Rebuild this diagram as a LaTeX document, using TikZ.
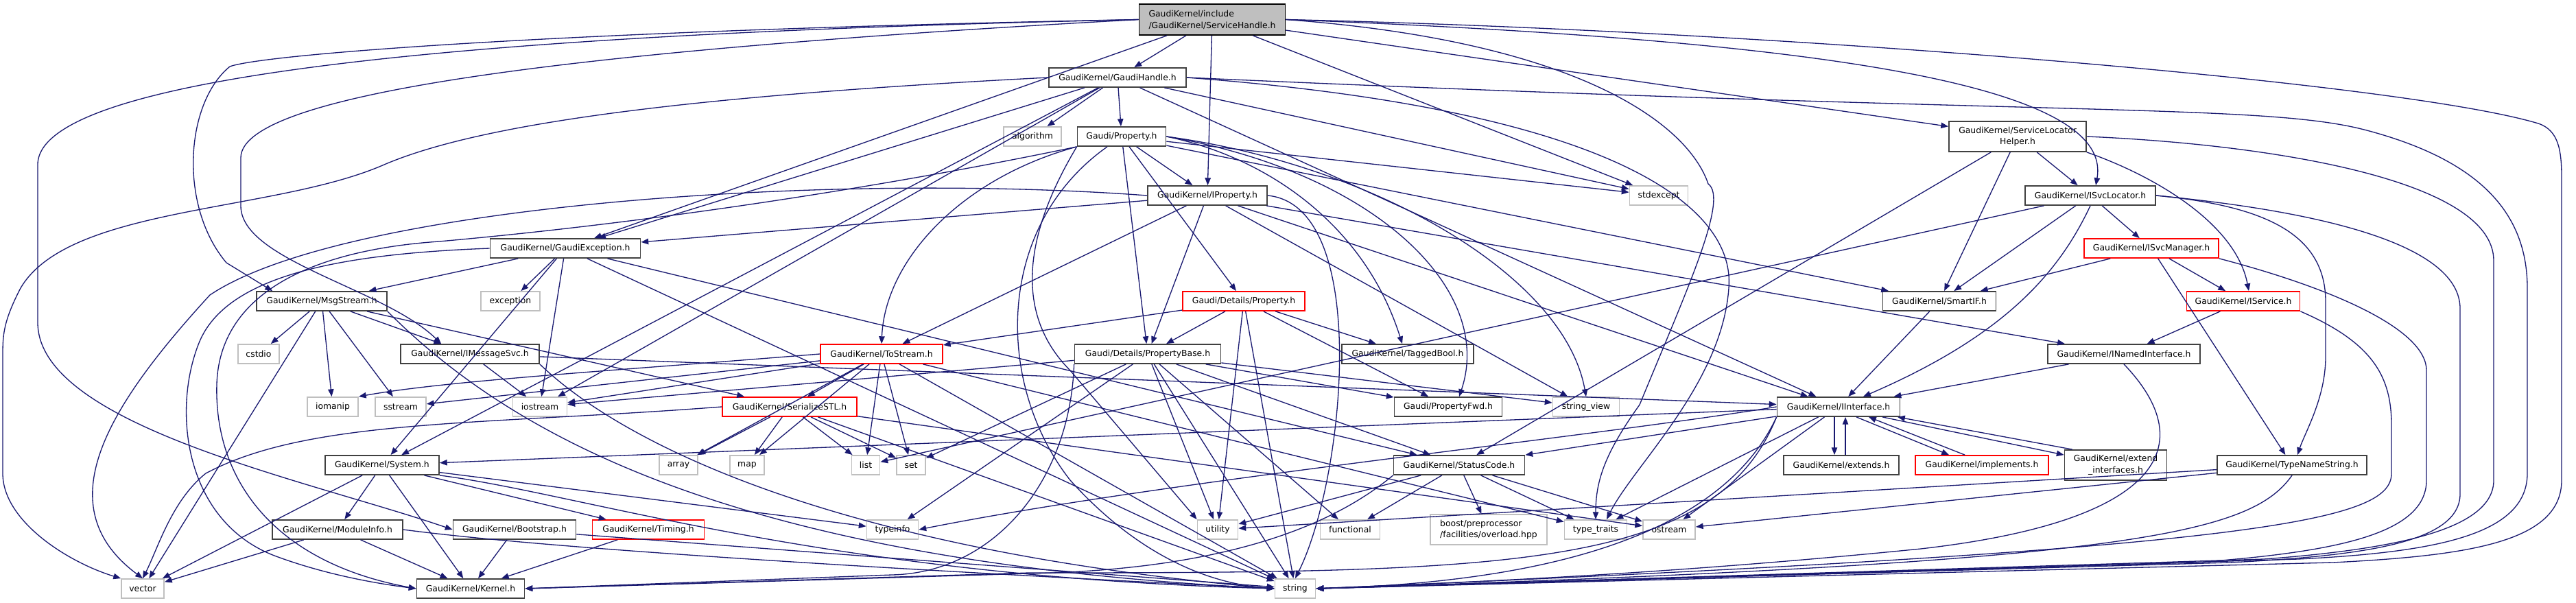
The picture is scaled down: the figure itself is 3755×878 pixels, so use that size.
\documentclass[tikz,border=0pt]{standalone}
\usepackage{fontspec}
\setmainfont{DejaVu Sans}
\usetikzlibrary{arrows.meta}
\definecolor{edgec}{HTML}{191970}
\definecolor{grayb}{HTML}{BFBFBF}
\definecolor{redb}{HTML}{FF0000}
\definecolor{shfill}{HTML}{BFBFBF}
\definecolor{darkb}{HTML}{404040}
\newcommand{\dxfont}{\fontsize{3.1}{4.2}\selectfont}
\tikzset{
 nb/.style={draw=darkb, line width=0.45pt, fill=white, inner sep=0pt, minimum height=7pt, font=\dxfont, text=black},
 ng/.style={nb, draw=grayb},
 nr/.style={nb, draw=redb},
 e/.style={draw=edgec, line width=0.33pt, -{Triangle[length=2.7pt,width=2.1pt]}},
}
\begin{document}
\begin{tikzpicture}[x=0.25pt,y=-0.25pt]
\useasboundingbox (0,0) rectangle (3755,878);
% ---------- nodes ----------
\node[nb, draw=black, fill=shfill, minimum width=53.25pt, minimum height=11.25pt, align=left] (SH) at (1767,28.5) {GaudiKernel/include\\/GaudiKernel/ServiceHandle.h};
\node[nb, minimum width=50pt] (GH) at (1629,113) {GaudiKernel/GaudiHandle.h};
\node[ng, minimum width=21pt] (ALG) at (1505,199) {algorithm};
\node[nb, minimum width=32.25pt] (PROP) at (1635,199) {Gaudi/Property.h};
\node[nb, minimum width=50pt, minimum height=11pt, align=center] (SLH) at (2941,199) {GaudiKernel/ServiceLocator\\Helper.h};
\node[nb, minimum width=43.5pt] (IPROP) at (1760,285) {GaudiKernel/IProperty.h};
\node[nb, minimum width=47.5pt] (ISL) at (3047,285) {GaudiKernel/ISvcLocator.h};
\node[ng, minimum width=21.25pt] (STDEXC) at (2418,285) {stdexcept};
\node[nb, minimum width=54.75pt] (GEXC) at (824,362) {GaudiKernel/GaudiException.h};
\node[nr, minimum width=49pt] (ISM) at (3136,362) {GaudiKernel/ISvcManager.h};
\node[nr, minimum width=44.5pt] (DPROP) at (1813,439) {Gaudi/Details/Property.h};
\node[nb, minimum width=47.5pt] (MSG) at (469,439) {GaudiKernel/MsgStream.h};
\node[ng, minimum width=21.5pt] (EXC) at (744,439) {exception};
\node[nb, minimum width=41.25pt] (SMART) at (2827,439) {GaudiKernel/SmartIF.h};
\node[nr, minimum width=41.25pt] (ISERV) at (3270,439) {GaudiKernel/IService.h};
\node[ng, minimum width=15pt] (CSTDIO) at (377,516) {cstdio};
\node[nb, minimum width=50.5pt] (IMSG) at (685,516) {GaudiKernel/IMessageSvc.h};
\node[nr, minimum width=44.5pt] (TOS) at (1285,516) {GaudiKernel/ToStream.h};
\node[nb, minimum width=53.25pt] (PB) at (1673,516) {Gaudi/Details/PropertyBase.h};
\node[nb, minimum width=48pt] (TB) at (2052,516) {GaudiKernel/TaggedBool.h};
\node[nb, minimum width=55.5pt] (INI) at (3096,516) {GaudiKernel/INamedInterface.h};
\node[ng, minimum width=18.5pt] (IOMANIP) at (485,593) {iomanip};
\node[ng, minimum width=18.5pt] (SSTREAM) at (584,593) {sstream};
\node[ng, minimum width=19.75pt] (IOSTREAM) at (787,593) {iostream};
\node[nr, minimum width=49pt] (SSTL) at (1151,593) {GaudiKernel/SerializeSTL.h};
\node[nb, minimum width=39.25pt] (PFWD) at (2111,593) {Gaudi/PropertyFwd.h};
\node[ng, minimum width=24.25pt] (SV) at (2312,593) {string\_view};
\node[nb, minimum width=44.75pt] (IIF) at (2680,593) {GaudiKernel/IInterface.h};
\node[nb, minimum width=41.5pt] (SYS) at (557,678) {GaudiKernel/System.h};
\node[ng, minimum width=14pt] (ARR) at (989,678) {array};
\node[ng, minimum width=12.5pt] (MAP) at (1089,678) {map};
\node[ng, minimum width=10.25pt] (LIST) at (1262,678) {list};
\node[ng, minimum width=10.5pt] (SET) at (1328,678) {set};
\node[nb, minimum width=47.75pt] (SC) at (2127,678) {GaudiKernel/StatusCode.h};
\node[nb, minimum width=42pt] (EXT) at (2684,678) {GaudiKernel/extends.h};
\node[nr, minimum width=48.5pt] (IMPL) at (2889,678) {GaudiKernel/implements.h};
\node[nb, minimum width=37.25pt, minimum height=11pt, align=center] (EXTI) at (3084,678) {GaudiKernel/extend\\\_interfaces.h};
\node[nb, minimum width=54.5pt] (TNS) at (3341,678) {GaudiKernel/TypeNameString.h};
\node[nb, minimum width=47.5pt] (MOD) at (492,772) {GaudiKernel/ModuleInfo.h};
\node[nb, minimum width=44.75pt] (BOOT) at (750,772) {GaudiKernel/Bootstrap.h};
\node[nr, minimum width=40.75pt] (TIM) at (945,772) {GaudiKernel/Timing.h};
\node[ng, minimum width=18.75pt] (TYPEINFO) at (1301,772) {typeinfo};
\node[ng, minimum width=14.75pt] (UTIL) at (1775,772) {utility};
\node[ng, minimum width=21.75pt] (FUNC) at (1968,772) {functional};
\node[ng, minimum width=42.5pt, minimum height=11pt, align=left] (BOOST) at (2170,772) {boost/preprocessor\\/facilities/overload.hpp};
\node[ng, minimum width=22.75pt] (TT) at (2326,772) {type\_traits};
\node[ng, minimum width=19pt] (OSTR) at (2433,772) {ostream};
\node[ng, minimum width=15.5pt] (VEC) at (208,858) {vector};
\node[nb, minimum width=39.25pt] (KER) at (686,858) {GaudiKernel/Kernel.h};
\node[ng, minimum width=14.75pt] (STR) at (1888,858) {string};
% ---------- edges: ServiceHandle ----------
\draw[e] (SH) -- (GH);
\draw[e] (SH) -- (IPROP);
\draw[e] (SH) -- (SLH);
\draw[e] (SH.east) .. controls (2700,60) and (3080,130) .. ([xshift=2pt]ISL.north);
\draw[e] (SH) -- (GEXC);
\draw[e] (SH.west) .. controls (800,45) and (380,80) .. (335,97) .. controls (270,150) and (260,300) .. (330,383) -- ([xshift=6pt]MSG.north west);
\draw[e] (SH.west) .. controls (900,70) and (351,130) .. (351,230) -- (351,300) .. controls (351,380) and (560,420) .. ([xshift=15pt]IMSG.north west);
\draw[e] (SH.west) .. controls (900,45) and (55,90) .. (55,240) -- (55,470) .. controls (55,620) and (450,700) .. (BOOT.west);
\draw[e] (SH) -- (STDEXC);
\draw[e] (SH.east) .. controls (2600,45) and (3500,120) .. (3700,180) .. controls (3730,190) and (3734,220) .. (3734,260) -- (3734,700) .. controls (3734,790) and (3600,810) .. (3400,820) -- (STR.east);
\draw[e] (SH.east) .. controls (2300,60) and (2460,180) .. (2490,268) .. controls (2520,290) and (2460,420) .. (2390,590) .. controls (2340,660) and (2326,700) .. (TT.north);
% ---------- GaudiHandle ----------
\draw[e] (GH) -- (ALG);
\draw[e] (GH) -- (PROP);
\draw[e] (GH) -- (GEXC);
\draw[e] (GH) -- (IIF);
\draw[e] (GH) -- (SYS);
\draw[e] (GH) -- (IOSTREAM);
\draw[e] (GH.east) .. controls (3000,170) and (3300,150) .. (3450,190) .. controls (3600,230) and (3684,300) .. (3684,420) -- (3684,690) .. controls (3684,780) and (3550,805) .. (3350,815) -- (STR.east);
\draw[e] (GH.east) .. controls (2350,160) and (2530,300) .. (2520,420) .. controls (2510,560) and (2380,680) .. ([xshift=4pt]TT.north);
\draw[e] (GH.west) .. controls (1000,140) and (700,180) .. (560,240) .. controls (400,310) and (100,300) .. (30,420) .. controls (4,470) and (4,490) .. (4,520) -- (4,690) .. controls (4,760) and (100,820) .. (VEC.north west);
\draw[e] (GH) -- (STDEXC);
% ---------- Gaudi/Property ----------
\draw[e] (PROP) -- (IPROP);
\draw[e] (PROP) -- (DPROP);
\draw[e] (PROP) -- (PB);
\draw[e] (PROP.east) .. controls (2000,250) and (2180,420) .. ([xshift=4pt]PFWD.north);
\draw[e] (PROP.east) .. controls (1850,230) and (1990,330) .. ([xshift=-2pt]TB.north);
\draw[e] (PROP.south west) .. controls (1400,260) and (1290,380) .. (TOS.north);
\draw[e] (PROP) -- (SMART);
\draw[e] (PROP) -- (STDEXC);
\draw[e] (PROP) .. controls (1450,330) and (1450,560) .. (1560,700) .. controls (1650,800) and (1750,850) .. (STR.west);
\draw[e] (PROP.east) .. controls (2000,240) and (2280,400) .. (SV.north);
\draw[e] (PROP.south west) .. controls (1470,380) and (1500,480) .. (1560,540) -- (UTIL.north west);
\draw[e] (PROP.south west) .. controls (1350,260) and (1000,320) .. (640,352) .. controls (450,365) and (320,430) .. (316,560) .. controls (312,700) and (400,820) .. (KER.west);
% ---------- IProperty ----------
\draw[e] (IPROP) -- (GEXC);
\draw[e] (IPROP) -- (IIF);
\draw[e] (IPROP) -- (PB);
\draw[e] (IPROP) -- (TOS);
\draw[e] (IPROP.east) .. controls (2000,300) and (1960,700) .. (STR.north);
\draw[e] (IPROP.west) .. controls (1200,250) and (500,300) .. (306,430) .. controls (150,600) and (70,740) .. (VEC.north);
\draw[e] (IPROP) -- (SV);
\draw[e] (IPROP) -- (INI);
% ---------- GaudiException ----------
\draw[e] (GEXC) -- (EXC);
\draw[e] (GEXC) -- (MSG);
\draw[e] (GEXC) -- (SYS);
\draw[e] (GEXC) -- (SC);
\draw[e] (GEXC) -- (IOSTREAM);
\draw[e] (GEXC) -- (STR);
\draw[e] (GEXC.west) .. controls (500,370) and (330,400) .. (290,500) .. controls (250,600) and (270,760) .. (400,810) .. controls (480,840) and (560,852) .. (KER.west);
% ---------- MsgStream ----------
\draw[e] (MSG) -- (VEC);
\draw[e] (MSG) -- (CSTDIO);
\draw[e] (MSG) -- (IOMANIP);
\draw[e] (MSG) -- (SSTREAM);
\draw[e] (MSG) -- (IMSG);
\draw[e] (MSG) -- (SSTL);
\draw[e] (MSG.south east) .. controls (760,650) and (1100,820) .. (STR.west);
% ---------- IMessageSvc ----------
\draw[e] (IMSG) -- (IOSTREAM);
\draw[e] (IMSG) -- (IIF);
\draw[e] (IMSG.south east) .. controls (900,640) and (1200,800) .. (STR.west);
% ---------- ToStream ----------
\draw[e] (TOS) -- (SSTREAM);
\draw[e] (TOS.west) .. controls (900,540) and (650,555) .. (IOMANIP.north east);
\draw[e] (TOS) -- (IOSTREAM);
\draw[e] (TOS) -- (SSTL);
\draw[e] (TOS) -- (ARR);
\draw[e] (TOS) -- (MAP);
\draw[e] (TOS) -- (LIST);
\draw[e] (TOS) -- (SET);
\draw[e] (TOS) -- (STR);
\draw[e] (TOS) -- (TT);
% ---------- SerializeSTL ----------
\draw[e] (SSTL) -- (ARR);
\draw[e] (SSTL) -- (MAP);
\draw[e] (SSTL) -- (LIST);
\draw[e] (SSTL) -- (SET);
\draw[e] (SSTL.west) .. controls (700,620) and (450,610) .. (300,690) .. controls (250,730) and (230,800) .. (VEC.north);
\draw[e] (SSTL) -- (OSTR);
\draw[e] (SSTL) -- (STR);
% ---------- PropertyBase ----------
\draw[e] (PB) -- (IOSTREAM);
\draw[e] (PB) -- (SET);
\draw[e] (PB) -- (TYPEINFO);
\draw[e] (PB) -- (STR);
\draw[e] (PB) -- (UTIL);
\draw[e] (PB) -- (PFWD);
\draw[e] (PB) -- (SV);
\draw[e] (PB) -- (FUNC);
\draw[e] (PB) -- (SC);
\draw[e] (PB.south west) .. controls (1560,700) and (1450,835) .. (1300,838) -- (KER.east);
% ---------- Details/Property ----------
\draw[e] (DPROP) -- (TOS);
\draw[e] (DPROP) -- (PB);
\draw[e] (DPROP) -- (TB);
\draw[e] (DPROP) -- (PFWD);
\draw[e] (DPROP) -- (STR);
\draw[e] (DPROP) -- (UTIL);
% ---------- System ----------
\draw[e] (SYS) -- (VEC);
\draw[e] (SYS) -- (MOD);
\draw[e] (SYS) -- (KER);
\draw[e] (SYS) -- (TIM);
\draw[e] (SYS) -- (TYPEINFO);
\draw[e] (SYS.south east) .. controls (850,720) and (1200,840) .. (STR.west);
% ---------- ModuleInfo, Bootstrap, Timing ----------
\draw[e] (MOD) -- (VEC);
\draw[e] (MOD) -- (KER);
\draw[e] (MOD.east) .. controls (800,800) and (1300,830) .. (STR.west);
\draw[e] (BOOT) -- (KER);
\draw[e] (BOOT) -- (STR);
\draw[e] (TIM) -- (KER);
% ---------- StatusCode ----------
\draw[e] (SC) -- (FUNC);
\draw[e] (SC) -- (BOOST);
\draw[e] (SC) -- (TT);
\draw[e] (SC) -- (OSTR);
\draw[e] (SC) -- (UTIL);
\draw[e] (SC.south west) .. controls (1950,760) and (1800,830) .. (1500,836) -- (KER.east);
% ---------- IInterface ----------
\draw[e] (IIF) -- (SYS);
\draw[e] (IIF) -- (SC);
\draw[e] (IIF) -- (TT);
\draw[e] (IIF) -- (OSTR);
\draw[e] (IIF.south west) .. controls (2500,800) and (2200,850) .. (STR.east);
\draw[e] (IIF.south west) .. controls (2500,830) and (2200,835) .. (1500,835) -- (KER.east);
\draw[e] (IIF.west) .. controls (2300,640) and (1700,700) .. (TYPEINFO.east);
\draw[e] ([xshift=-1.5pt]IIF.south) -- ([xshift=-2.5pt]EXT.north);
\draw[e] ([xshift=1.5pt]EXT.north) -- ([xshift=2.5pt]IIF.south);
\draw[e] ([xshift=6.5pt]IIF.south) -- ([xshift=-12pt]IMPL.north);
\draw[e] ([xshift=-6.25pt]IMPL.north) -- ([xshift=11pt]IIF.south);
\draw[e] ([xshift=16pt]IIF.south) -- ([yshift=-2pt]EXTI.north west);
\draw[e] ([xshift=3pt]EXTI.north west) -- ([xshift=21.5pt]IIF.south);
% ---------- INamedInterface, SmartIF ----------
\draw[e] (INI) -- (IIF);
\draw[e] (INI.south) .. controls (3210,650) and (3150,760) .. (2800,800) .. controls (2400,840) and (2100,850) .. (STR.east);
\draw[e] (SMART) -- (IIF);
% ---------- ISvcLocator ----------
\draw[e] (ISL.south) .. controls (3000,400) and (2920,490) .. ([xshift=9pt]IIF.north);
\draw[e] (ISL) -- (SMART);
\draw[e] (ISL) -- (ISM);
\draw[e] (ISL.east) .. controls (3300,300) and (3390,340) .. (3390,440) -- (3390,520) .. controls (3390,580) and (3360,630) .. ([xshift=2pt]TNS.north);
\draw[e] (ISL.east) .. controls (3400,310) and (3586,360) .. (3586,450) -- (3586,720) .. controls (3586,790) and (3450,810) .. (3250,820) -- (STR.east);
\draw[e] (ISL) -- (LIST);
% ---------- ServiceLocatorHelper ----------
\draw[e] (SLH) -- (ISL);
\draw[e] (SLH) -- (SMART);
\draw[e] (SLH.south east) .. controls (3150,260) and (3260,330) .. ([xshift=2pt]ISERV.north);
\draw[e] (SLH) -- (SC);
\draw[e] (SLH.east) .. controls (3300,210) and (3635,260) .. (3635,380) -- (3635,700) .. controls (3635,770) and (3500,800) .. (3300,815) -- (STR.east);
% ---------- ISvcManager ----------
\draw[e] (ISM) -- (SMART);
\draw[e] (ISM) -- (ISERV);
\draw[e] (ISM) -- (TNS);
\draw[e] (ISM.south east) .. controls (3400,420) and (3537,480) .. (3537,540) -- (3537,700) .. controls (3537,780) and (3400,805) .. (3200,820) -- (STR.east);
% ---------- IService ----------
\draw[e] (ISERV) -- (INI);
\draw[e] (ISERV.south east) .. controls (3460,500) and (3486,550) .. (3486,620) -- (3486,690) .. controls (3486,760) and (3300,800) .. (STR.east);
% ---------- TypeNameString ----------
\draw[e] (TNS.south) .. controls (3280,780) and (3100,820) .. (STR.east);
\draw[e] (TNS) -- (OSTR);
\draw[e] (TNS) -- (UTIL);
\end{tikzpicture}
\end{document}
